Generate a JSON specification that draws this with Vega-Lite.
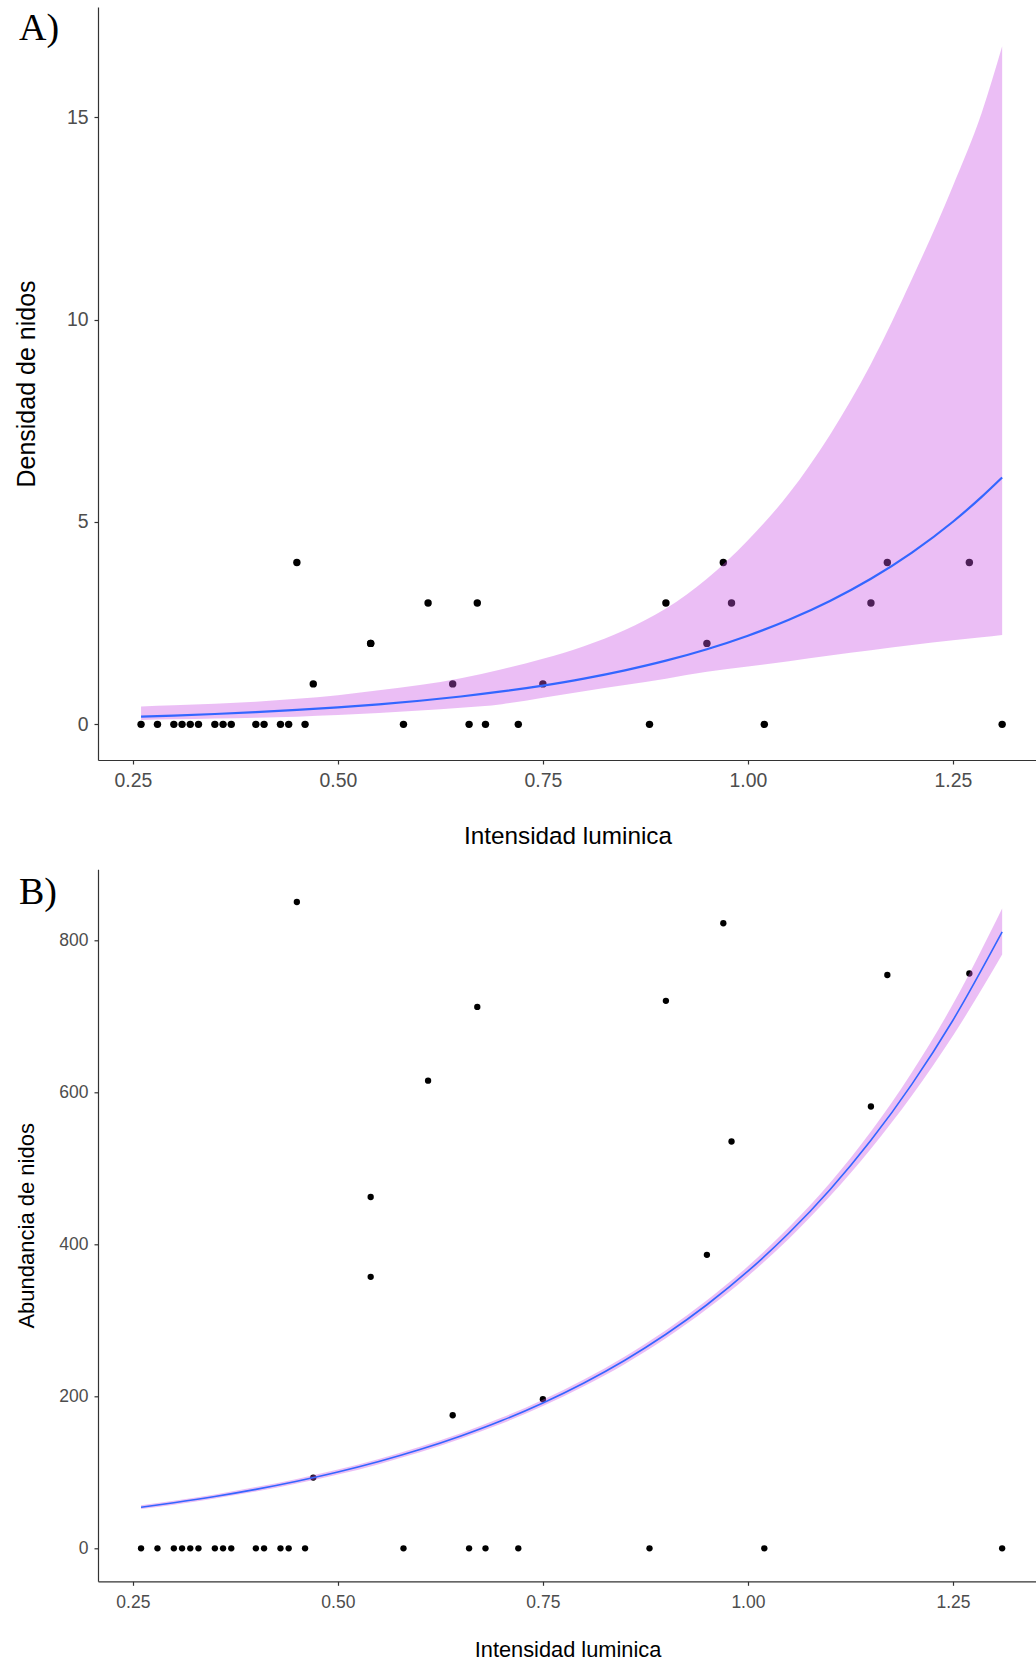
{
  "$schema": "https://vega.github.io/schema/vega-lite/v6.json",
  "padding": {"left": 14, "top": 7, "right": 0, "bottom": 0},
  "autosize": {"type": "pad"},
  "spacing": 20.3,
  "background": "white",
  "config": {
    "view": {"stroke": null},
    "font": "Liberation Sans",
    "axis": {
      "grid": false,
      "domainColor": "#333333",
      "domainWidth": 1.2,
      "tickColor": "#333333",
      "tickWidth": 1.2,
      "tickSize": 4,
      "labelFont": "Liberation Sans",
      "labelColor": "#4D4D4D",
      "titleFont": "Liberation Sans",
      "titleFontWeight": "normal",
      "titleColor": "#000000"
    },
    "title": {"font": "Liberation Serif", "fontSize": 38, "fontWeight": "normal", "color": "#000000", "anchor": "start", "frame": "group", "baseline": "alphabetic", "offset": 0}
  },
  "datasets": {
    "ptsA": [
      {"x": 0.26, "y": 0}, {"x": 0.28, "y": 0}, {"x": 0.30, "y": 0}, {"x": 0.31, "y": 0}, {"x": 0.32, "y": 0}, {"x": 0.33, "y": 0}, {"x": 0.35, "y": 0}, {"x": 0.36, "y": 0}, {"x": 0.37, "y": 0}, {"x": 0.40, "y": 0}, {"x": 0.41, "y": 0}, {"x": 0.43, "y": 0}, {"x": 0.44, "y": 0}, {"x": 0.46, "y": 0}, {"x": 0.58, "y": 0}, {"x": 0.66, "y": 0}, {"x": 0.68, "y": 0}, {"x": 0.72, "y": 0}, {"x": 0.88, "y": 0}, {"x": 1.02, "y": 0}, {"x": 1.31, "y": 0},
      {"x": 0.45, "y": 4}, {"x": 0.47, "y": 1}, {"x": 0.54, "y": 2}, {"x": 0.54, "y": 2}, {"x": 0.61, "y": 3}, {"x": 0.64, "y": 1}, {"x": 0.67, "y": 3}, {"x": 0.75, "y": 1}, {"x": 0.90, "y": 3}, {"x": 0.95, "y": 2}, {"x": 0.97, "y": 4}, {"x": 0.98, "y": 3}, {"x": 1.15, "y": 3}, {"x": 1.17, "y": 4}, {"x": 1.27, "y": 4}
    ],
    "ptsB": [
      {"x": 0.26, "y": 0}, {"x": 0.28, "y": 0}, {"x": 0.30, "y": 0}, {"x": 0.31, "y": 0}, {"x": 0.32, "y": 0}, {"x": 0.33, "y": 0}, {"x": 0.35, "y": 0}, {"x": 0.36, "y": 0}, {"x": 0.37, "y": 0}, {"x": 0.40, "y": 0}, {"x": 0.41, "y": 0}, {"x": 0.43, "y": 0}, {"x": 0.44, "y": 0}, {"x": 0.46, "y": 0}, {"x": 0.58, "y": 0}, {"x": 0.66, "y": 0}, {"x": 0.68, "y": 0}, {"x": 0.72, "y": 0}, {"x": 0.88, "y": 0}, {"x": 1.02, "y": 0}, {"x": 1.31, "y": 0},
      {"x": 0.45, "y": 850}, {"x": 0.47, "y": 93}, {"x": 0.54, "y": 462}, {"x": 0.54, "y": 357}, {"x": 0.61, "y": 615}, {"x": 0.64, "y": 175}, {"x": 0.67, "y": 712}, {"x": 0.75, "y": 196}, {"x": 0.90, "y": 720}, {"x": 0.95, "y": 386}, {"x": 0.97, "y": 822}, {"x": 0.98, "y": 535}, {"x": 1.15, "y": 581}, {"x": 1.17, "y": 754}, {"x": 1.27, "y": 756}
    ],
    "fitA": [
      {"x": 0.26, "fit": 0.19, "lo": 0.11, "hi": 0.44},
      {"x": 0.30, "fit": 0.217, "lo": 0.125, "hi": 0.47},
      {"x": 0.35, "fit": 0.256, "lo": 0.145, "hi": 0.51},
      {"x": 0.40, "fit": 0.302, "lo": 0.165, "hi": 0.56},
      {"x": 0.45, "fit": 0.356, "lo": 0.19, "hi": 0.63},
      {"x": 0.50, "fit": 0.42, "lo": 0.23, "hi": 0.72},
      {"x": 0.55, "fit": 0.495, "lo": 0.28, "hi": 0.84},
      {"x": 0.60, "fit": 0.584, "lo": 0.34, "hi": 0.97},
      {"x": 0.65, "fit": 0.689, "lo": 0.41, "hi": 1.14},
      {"x": 0.70, "fit": 0.813, "lo": 0.50, "hi": 1.36},
      {"x": 0.75, "fit": 0.959, "lo": 0.66, "hi": 1.62},
      {"x": 0.80, "fit": 1.131, "lo": 0.82, "hi": 1.93},
      {"x": 0.85, "fit": 1.335, "lo": 0.97, "hi": 2.33},
      {"x": 0.90, "fit": 1.574, "lo": 1.13, "hi": 2.86},
      {"x": 0.95, "fit": 1.857, "lo": 1.30, "hi": 3.60},
      {"x": 1.00, "fit": 2.191, "lo": 1.43, "hi": 4.55},
      {"x": 1.05, "fit": 2.584, "lo": 1.56, "hi": 5.70},
      {"x": 1.10, "fit": 3.049, "lo": 1.70, "hi": 7.15},
      {"x": 1.15, "fit": 3.597, "lo": 1.83, "hi": 8.90},
      {"x": 1.20, "fit": 4.243, "lo": 1.96, "hi": 11.0},
      {"x": 1.25, "fit": 5.005, "lo": 2.08, "hi": 13.3},
      {"x": 1.285, "fit": 5.62, "lo": 2.15, "hi": 15.1},
      {"x": 1.31, "fit": 6.10, "lo": 2.21, "hi": 16.75}
    ],
    "fitB": [
      {"x": 0.26, "fit": 54.0, "lo": 51.6, "hi": 56.5},
      {"x": 0.30, "fit": 59.9, "lo": 57.4, "hi": 62.5},
      {"x": 0.35, "fit": 68.1, "lo": 65.4, "hi": 70.9},
      {"x": 0.40, "fit": 77.5, "lo": 74.6, "hi": 80.5},
      {"x": 0.45, "fit": 88.2, "lo": 85.2, "hi": 91.3},
      {"x": 0.50, "fit": 100.3, "lo": 97.0, "hi": 103.7},
      {"x": 0.55, "fit": 114.1, "lo": 110.7, "hi": 117.6},
      {"x": 0.60, "fit": 129.8, "lo": 126.2, "hi": 133.5},
      {"x": 0.65, "fit": 147.7, "lo": 144.1, "hi": 151.4},
      {"x": 0.70, "fit": 168.0, "lo": 164.1, "hi": 172.0},
      {"x": 0.75, "fit": 191.2, "lo": 187.0, "hi": 195.5},
      {"x": 0.80, "fit": 217.5, "lo": 213.0, "hi": 222.1},
      {"x": 0.85, "fit": 247.4, "lo": 242.5, "hi": 252.4},
      {"x": 0.90, "fit": 281.5, "lo": 276.3, "hi": 286.8},
      {"x": 0.95, "fit": 320.3, "lo": 314.6, "hi": 326.1},
      {"x": 1.00, "fit": 364.4, "lo": 357.9, "hi": 371.0},
      {"x": 1.05, "fit": 414.6, "lo": 407.2, "hi": 422.1},
      {"x": 1.10, "fit": 471.6, "lo": 463.0, "hi": 480.4},
      {"x": 1.15, "fit": 536.6, "lo": 525.5, "hi": 548.0},
      {"x": 1.20, "fit": 610.5, "lo": 595.4, "hi": 626.0},
      {"x": 1.25, "fit": 694.5, "lo": 674.0, "hi": 715.7},
      {"x": 1.31, "fit": 810.6, "lo": 781.1, "hi": 841.6}
    ]
  },
  "vconcat": [
    {
      "width": 939,
      "height": 753,
      "title": {"text": "A)", "dx": -79, "dy": 45},
      "layer": [
        {
          "data": {"name": "ptsA"},
          "mark": {"type": "point", "filled": true, "color": "#000000", "opacity": 1, "size": 55, "shape": "circle"},
          "encoding": {
            "x": {"field": "x", "type": "quantitative", "scale": {"domain": [0.2075, 1.3525], "nice": false, "zero": false},
              "axis": {"values": [0.25, 0.5, 0.75, 1, 1.25], "format": ".2f", "title": "Intensidad luminica", "labelFontSize": 19.4, "titleFontSize": 24.3, "labelBaseline": "alphabetic", "labelPadding": 22.7, "titleY": 83, "titleBaseline": "alphabetic"}},
            "y": {"field": "y", "type": "quantitative", "scale": {"domain": [-0.88, 17.72], "nice": false, "zero": false},
              "axis": {"values": [0, 5, 10, 15], "title": "Densidad de nidos", "labelFontSize": 19.4, "titleFontSize": 25, "labelPadding": 6, "titleX": -64, "titleBaseline": "alphabetic"}}
          }
        },
        {
          "data": {"name": "fitA"},
          "mark": {"type": "area", "color": "#CA55E6", "opacity": 0.38, "interpolate": "monotone"},
          "encoding": {
            "x": {"field": "x", "type": "quantitative"},
            "y": {"field": "lo", "type": "quantitative"},
            "y2": {"field": "hi"}
          }
        },
        {
          "data": {"name": "fitA"},
          "mark": {"type": "line", "color": "#3366FF", "strokeWidth": 2.2, "interpolate": "monotone"},
          "encoding": {
            "x": {"field": "x", "type": "quantitative"},
            "y": {"field": "fit", "type": "quantitative"}
          }
        }
      ]
    },
    {
      "width": 939,
      "height": 712,
      "title": {"text": "B)", "dx": -79, "dy": 47},
      "layer": [
        {
          "data": {"name": "ptsB"},
          "mark": {"type": "point", "filled": true, "color": "#000000", "opacity": 1, "size": 40, "shape": "circle"},
          "encoding": {
            "x": {"field": "x", "type": "quantitative", "scale": {"domain": [0.2075, 1.3525], "nice": false, "zero": false},
              "axis": {"values": [0.25, 0.5, 0.75, 1, 1.25], "format": ".2f", "title": "Intensidad luminica", "labelFontSize": 17.5, "titleFontSize": 21.8, "labelBaseline": "alphabetic", "labelPadding": 22, "titleY": 75, "titleBaseline": "alphabetic"}},
            "y": {"field": "y", "type": "quantitative", "scale": {"domain": [-43.4, 893], "nice": false, "zero": false},
              "axis": {"values": [0, 200, 400, 600, 800], "title": "Abundancia de nidos", "labelFontSize": 17.5, "titleFontSize": 22, "labelPadding": 6, "titleX": -65, "titleBaseline": "alphabetic"}}
          }
        },
        {
          "data": {"name": "fitB"},
          "mark": {"type": "area", "color": "#CA55E6", "opacity": 0.38, "interpolate": "monotone"},
          "encoding": {
            "x": {"field": "x", "type": "quantitative"},
            "y": {"field": "lo", "type": "quantitative"},
            "y2": {"field": "hi"}
          }
        },
        {
          "data": {"name": "fitB"},
          "mark": {"type": "line", "color": "#3366FF", "strokeWidth": 1.6, "interpolate": "monotone"},
          "encoding": {
            "x": {"field": "x", "type": "quantitative"},
            "y": {"field": "fit", "type": "quantitative"}
          }
        }
      ]
    }
  ]
}
